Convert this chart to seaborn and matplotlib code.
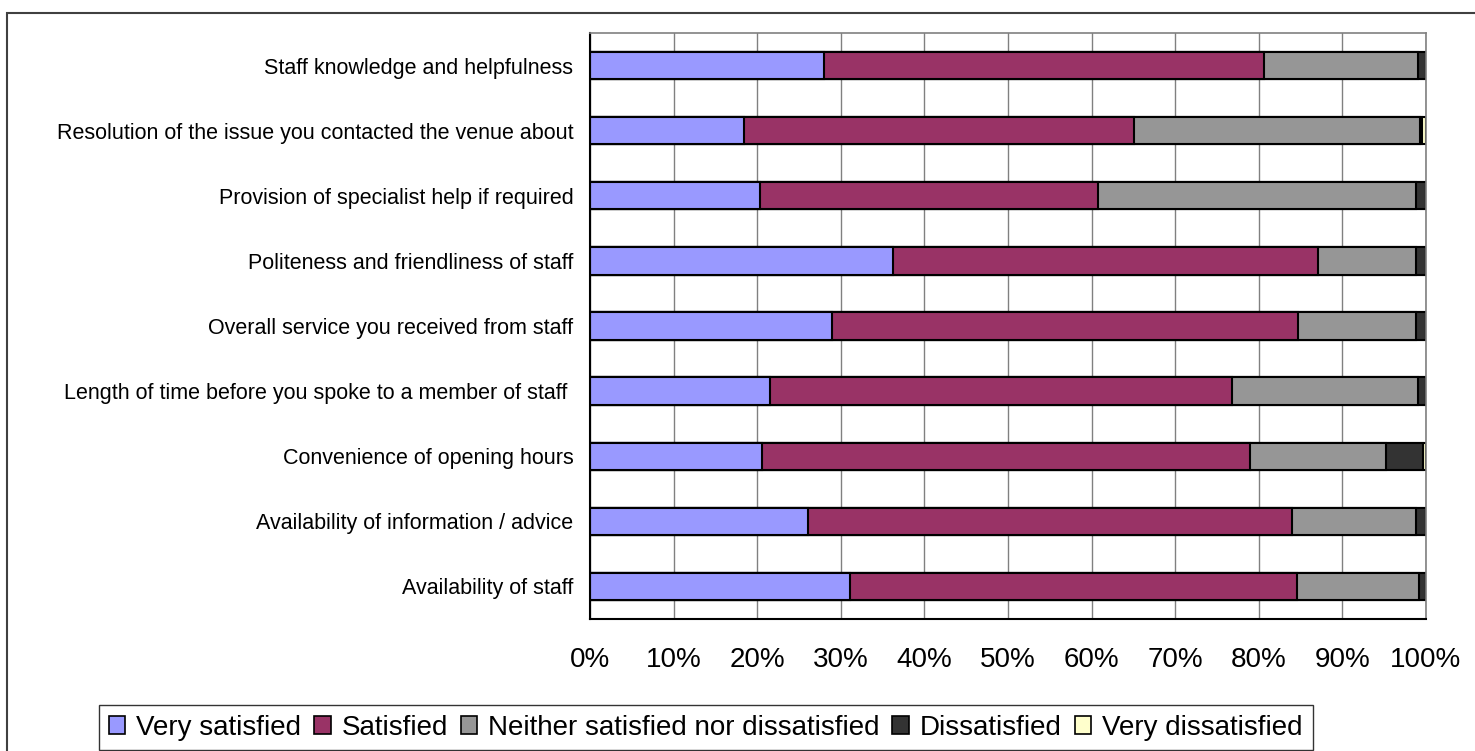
import matplotlib.pyplot as plt
import matplotlib.patches as mpatches
import numpy as np
import pandas as pd
import seaborn as sns

categories = [
    "Staff knowledge and helpfulness",
    "Resolution of the issue you contacted the venue about",
    "Provision of specialist help if required",
    "Politeness and friendliness of staff",
    "Overall service you received from staff",
    "Length of time before you spoke to a member of staff ",
    "Convenience of opening hours",
    "Availability of information / advice",
    "Availability of staff",
]
series = ["Very satisfied", "Satisfied", "Neither satisfied nor dissatisfied",
          "Dissatisfied", "Very dissatisfied"]
very_satisfied = [28.0, 18.4, 20.3, 36.2, 28.9, 21.5, 20.6, 26.1, 31.1]
satisfied = [52.6, 46.7, 40.5, 50.9, 55.8, 55.3, 58.3, 57.9, 53.5]
neither = [18.4, 34.2, 38.0, 11.7, 14.1, 22.2, 16.3, 14.8, 14.6]
dissatisfied = [1.0, 0.2, 1.2, 1.2, 1.2, 1.0, 4.4, 1.2, 0.8]
very_dissatisfied = [0.0, 0.5, 0.0, 0.0, 0.0, 0.0, 0.4, 0.0, 0.0]
colors = ["#9999FF", "#993366", "#969696", "#333333", "#FFFFCC"]

sns.set_style("white")
plt.rcParams["font.family"] = ["Liberation Sans", "DejaVu Sans"]
plt.rcParams["text.color"] = "black"
plt.rcParams["xtick.color"] = "black"
plt.rcParams["ytick.color"] = "black"

df = pd.DataFrame({"category": categories})
values = [very_satisfied, satisfied, neither, dissatisfied, very_dissatisfied]
for name, vals in zip(series, values):
    df[name] = vals
cum = df[series].cumsum(axis=1)

fig = plt.figure(figsize=(14.75, 7.51), dpi=100)
ax = fig.add_axes([590 / 1475, 1 - 619 / 751, (1426 - 590) / 1475, (619 - 33) / 751])

# stacked bars: draw the cumulative totals from the outside in
for name, col in reversed(list(zip(series, colors))):
    sns.barplot(data=cum.assign(category=categories), x=name, y="category",
                orient="h", color=col, saturation=1, width=0.42,
                edgecolor="black", linewidth=1.5, ax=ax)

ax.set_xlim(0, 100)
ax.set_ylim(8.5, -0.5)
ax.set_xticks(np.arange(0, 101, 10))
ax.set_xticklabels([f"{v}%" for v in range(0, 101, 10)], fontsize=20)
ax.set_xlabel("")
ax.set_ylabel("")
ax.grid(axis="x", color="#808080", linewidth=1)
ax.set_axisbelow(True)
ax.tick_params(axis="x", direction="out", length=6, width=1.2, pad=14)
ax.tick_params(axis="y", which="major", length=0, pad=12, labelsize=15.5)
ax.set_yticks(np.arange(-0.5, 9, 1), minor=True)
ax.tick_params(axis="y", which="minor", direction="out", length=4, width=1.2)
for side in ["left", "bottom"]:
    ax.spines[side].set_color("black")
    ax.spines[side].set_linewidth(1.5)
for side in ["top", "right"]:
    ax.spines[side].set_color("#808080")
    ax.spines[side].set_linewidth(1.2)

handles = [mpatches.Patch(facecolor=c, edgecolor="black", linewidth=1.2) for c in colors]
leg = fig.legend(handles, series, loc="upper left", bbox_to_anchor=(99 / 1475, 1 - 705 / 751),
                 ncol=5, fontsize=20, frameon=True, fancybox=False, edgecolor="black",
                 handlelength=0.6, handleheight=0.6, handletextpad=0.4,
                 columnspacing=0.45, borderpad=0.35, borderaxespad=0)
leg.get_frame().set_linewidth(1.0)

fig.patches.append(mpatches.Rectangle((7 / 1475, -0.05), 1.1, 0.05 + 1 - 13 / 751,
                                      transform=fig.transFigure, fill=False,
                                      edgecolor="#404040", linewidth=1.5))

fig.savefig("out.png", dpi=100)
